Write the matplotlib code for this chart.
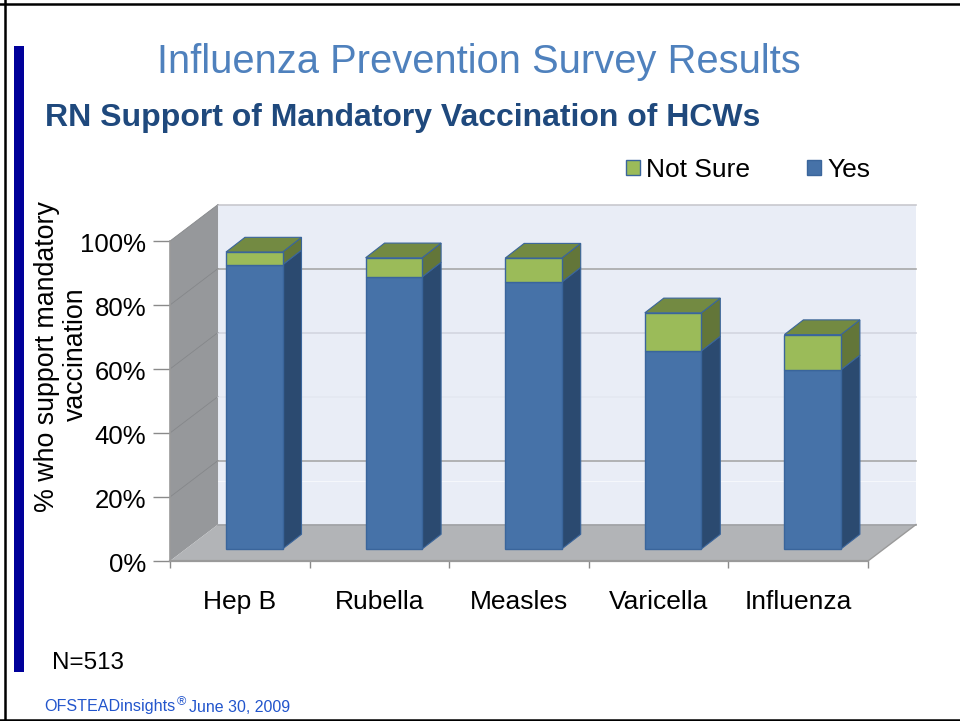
import matplotlib
matplotlib.use("Agg")
from matplotlib import pyplot as plt
from matplotlib.lines import Line2D
from matplotlib.patches import Polygon, Rectangle
from matplotlib.transforms import ScaledTranslation

plt.rcParams['font.family'] = ['Liberation Sans', 'DejaVu Sans']

categories = ["Hep B", "Rubella", "Measles", "Varicella", "Influenza"]
yes_values = [88.8, 85.0, 83.4, 61.9, 56.0]
not_sure_values = [4.0, 6.0, 7.5, 11.9, 11.0]
tick_values = [0, 20, 40, 60, 80, 100]

W, H = 960, 721
BLUE = "#4672A8"
BLUE_SIDE = "#2B4A70"
BLUE_EDGE = "#3A659B"
GREEN = "#9BBB59"
GREEN_TOP = "#738A42"
GREEN_SIDE = "#637639"
FOOT = "#2255CC"

# depth of the fake 3d box, in data units
WALL_DX, WALL_DY = 0.344, 11.4
BAR_DX, BAR_DY = 0.136, 4.6
BAR_OFFSET, BAR_LIFT = 0.401, 3.75
BAR_WIDTH = 0.405

fig = plt.figure(figsize=(W / 100, H / 100), dpi=100)
ax = fig.add_axes([170 / W, 1 - 561 / H, 698 / W, 320 / H])
ax.set_xlim(0, 5)
ax.set_ylim(0, 100)
for s in ax.spines.values():
    s.set_visible(False)

# walls and floor
ax.add_patch(Polygon([(WALL_DX, WALL_DY), (5 + WALL_DX, WALL_DY), (5 + WALL_DX, 100 + WALL_DY), (WALL_DX, 100 + WALL_DY)],
                     fc="#E9EDF6", ec="none", clip_on=False, zorder=1))
ax.add_patch(Polygon([(0, 0), (WALL_DX, WALL_DY), (WALL_DX, 100 + WALL_DY), (0, 100)],
                     fc="#96989B", ec="none", clip_on=False, zorder=1))
ax.add_patch(Polygon([(0, 0), (WALL_DX, WALL_DY), (5 + WALL_DX, WALL_DY), (5, 0)],
                     fc="#B2B4B7", ec="none", clip_on=False, zorder=1))

# gridlines on the back wall, they fade differently in the original
grid_colors = {20: "#A8A8A8", 40: "#E4E8F1", 60: "#D3D6E0", 80: "#A8A8A8", 100: "#C8C8CE"}
for v, c in grid_colors.items():
    ax.plot([WALL_DX, 5 + WALL_DX], [v + WALL_DY, v + WALL_DY], color=c, lw=1.2, clip_on=False, zorder=2)
    ax.plot([0, WALL_DX], [v, v + WALL_DY], color="#85878A", lw=0.6, clip_on=False, zorder=2)
ax.plot([WALL_DX, 5 + WALL_DX], [WALL_DY, WALL_DY], color="#A0A2A5", lw=1.2, clip_on=False, zorder=2)
ax.plot([0, 5], [0, 0], color="#9A9A9A", lw=1.6, clip_on=False, zorder=2)
ax.plot([0, 0], [0, 100], color="#9A9A9A", lw=1.2, clip_on=False, zorder=2)
ax.plot([5, 5 + WALL_DX], [0, WALL_DY], color="#9A9A9A", lw=1.0, clip_on=False, zorder=2)
# thin white scan line that crosses the wall in the original
ax.plot([WALL_DX, 5 + WALL_DX], [25, 25], color="white", lw=0.6, alpha=0.7, clip_on=False, zorder=3)

# bars
xs = [i + BAR_OFFSET for i in range(len(categories))]
bars_yes = ax.bar(xs, yes_values, width=BAR_WIDTH, bottom=BAR_LIFT, align="edge", color=BLUE,
                  edgecolor=BLUE_EDGE, lw=1, clip_on=False, zorder=5, label="Yes")
tops_yes = [y + BAR_LIFT for y in yes_values]
bars_ns = ax.bar(xs, not_sure_values, width=BAR_WIDTH, bottom=tops_yes, align="edge", color=GREEN,
                 edgecolor=BLUE_EDGE, lw=1, clip_on=False, zorder=5, label="Not Sure")

for x, low, n in zip(xs, tops_yes, not_sure_values):
    r = x + BAR_WIDTH
    high = low + n
    ax.add_patch(Polygon([(r, BAR_LIFT), (r + BAR_DX, BAR_LIFT + BAR_DY), (r + BAR_DX, low + BAR_DY), (r, low)],
                         fc=BLUE_SIDE, ec=BLUE_EDGE, lw=0.8, clip_on=False, zorder=4))
    ax.add_patch(Polygon([(r, low), (r + BAR_DX, low + BAR_DY), (r + BAR_DX, high + BAR_DY), (r, high)],
                         fc=GREEN_SIDE, ec=BLUE_EDGE, lw=0.8, clip_on=False, zorder=4))
    ax.add_patch(Polygon([(x, high), (x + BAR_DX, high + BAR_DY), (r + BAR_DX, high + BAR_DY), (r, high)],
                         fc=GREEN_TOP, ec=BLUE_EDGE, lw=0.8, clip_on=False, zorder=4))

# axes ticks and labels
ax.set_yticks(tick_values)
ax.set_yticklabels([f"{v}%" for v in tick_values], fontsize=18.5)
ax.set_xticks(range(6))
ax.set_xticklabels([])
ax.set_xticks([i + 0.5 for i in range(5)], minor=True)
ax.set_xticklabels(categories, minor=True, fontsize=19)
ax.tick_params(axis="y", length=12, width=1, color="#8A8A8A", pad=5.2)
ax.tick_params(axis="x", which="major", length=5, width=1, color="#8A8A8A")
ax.tick_params(axis="x", which="minor", length=0, pad=21.2)
ax.patch.set_visible(False)
nudge = ScaledTranslation(0, -2 / 100, fig.dpi_scale_trans)
for label in ax.get_yticklabels():
    label.set_transform(label.get_transform() + nudge)

# two separate texts so the short second line stays clear of the tick labels
fig.text(47.5 / W, 1 - 357 / H, "% who support mandatory", rotation=90, fontsize=19.3, ha="center", va="center")
fig.text(76 / W, 1 - 354 / H, "vaccination", rotation=90, fontsize=19.3, ha="center", va="center")

leg = fig.legend(handles=[bars_ns, bars_yes], labels=["Not Sure", "Yes"], ncol=2, frameon=False,
                 fontsize=19, loc="center left", bbox_to_anchor=(626 / W, 1 - 170 / H),
                 handlelength=0.52, handleheight=0.52, handletextpad=0.25, columnspacing=2.15,
                 borderpad=0, borderaxespad=0)

fig.text(479 / W, 1 - 62 / H, "Influenza Prevention Survey Results", color="#4F81BD", fontsize=28.7,
         ha="center", va="center")
fig.text(45 / W, 1 - 118 / H, "RN Support of Mandatory Vaccination of HCWs", color="#1F497D", fontsize=23,
         fontweight="bold", ha="left", va="center")
fig.text(52 / W, 1 - 663 / H, "N=513", fontsize=17.4, ha="left", va="center")
fig.text(44 / W, 1 - 707 / H, "OFSTEADinsights", color=FOOT, fontsize=11.6, ha="left", va="center")
fig.text(177 / W, 1 - 702 / H, "®", color=FOOT, fontsize=9, ha="left", va="center")
fig.text(189 / W, 1 - 707 / H, "June 30, 2009", color=FOOT, fontsize=11.5, ha="left", va="center")

# slide decoration
fig.add_artist(Rectangle((14 / W, 1 - 672 / H), 10 / W, 626 / H, transform=fig.transFigure, fc="#00009A", ec="none"))
for xy in [([4.5 / W, 4.5 / W], [0, 1]), ([0, 1], [1 - 4 / H, 1 - 4 / H]), ([0, 1], [1 - 720 / H, 1 - 720 / H])]:
    fig.add_artist(Line2D(xy[0], xy[1], color="black", lw=1.8, transform=fig.transFigure))

fig.savefig("out.png", dpi=100)
